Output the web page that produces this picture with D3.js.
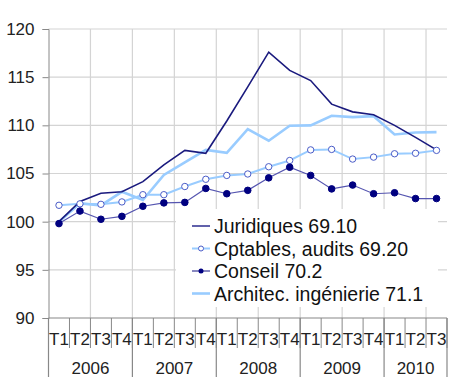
<!DOCTYPE html>
<html><head><meta charset="utf-8">
<script src="https://cdn.jsdelivr.net/npm/d3@7"></script>
<style>body{margin:0;background:#fff}svg{display:block;font-family:"Liberation Sans",Arial,sans-serif}</style>
</head><body><svg id="c" width="450" height="389"></svg>
<script>
const quarters = ["T1","T2","T3","T4","T1","T2","T3","T4","T1","T2","T3","T4","T1","T2","T3","T4","T1","T2","T3"];
const years = ["2006","2007","2008","2009","2010"];
const yearSpans = [4,4,4,4,3];
const yTicks = [90,95,100,105,110,115,120];
const juridiques = [100.0,102.1,102.95,103.1,104.15,105.9,107.4,107.1,110.45,114.0,117.6,115.7,114.65,112.2,111.4,111.1,110.0,108.75,107.45];
const cptables = [101.7,101.85,101.8,102.05,102.8,102.8,103.65,104.4,104.8,104.95,105.7,106.35,107.45,107.5,106.5,106.7,107.05,107.1,107.4];
const conseil = [99.8,101.1,100.25,100.55,101.6,101.95,102.0,103.45,102.9,103.25,104.55,105.65,104.8,103.4,103.8,102.9,103.0,102.4,102.4];
const architec = [100.0,101.9,101.7,103.1,102.25,104.85,106.15,107.45,107.15,109.6,108.4,109.95,110.0,111.0,110.85,110.95,109.05,109.25,109.3];
const seriesNames = ["Juridiques 69.10","Cptables, audits 69.20","Conseil 70.2","Architec. ingénierie 71.1"];

const svg = d3.select("#c");
const L = 48.5, R = 447, T = 29, B = 318;
const idx = d3.range(quarters.length);
const x = d3.scaleBand().domain(idx).range([L, R]);
const y = d3.scaleLinear().domain([90,120]).range([B, T]);
const cx = i => x(i) + x.bandwidth()/2;

// grid
const g = svg.append("g");
g.selectAll(".hg").data(yTicks.filter(v=>v>90)).enter().append("line")
  .attr("x1",L).attr("x2",R).attr("y1",d=>y(d)).attr("y2",d=>y(d))
  .attr("stroke","#d4d4d4").attr("stroke-width",1.2);
g.selectAll(".vg").data(d3.range(2, quarters.length+1, 2)).enter().append("line")
  .attr("x1",d=>L + d*x.bandwidth()).attr("x2",d=>L + d*x.bandwidth())
  .attr("y1",T).attr("y2",B)
  .attr("stroke","#d4d4d4").attr("stroke-width",1.2);

// y axis
const yAxis = d3.axisLeft(y).tickValues(yTicks).tickSize(6).tickPadding(8);
const ya = svg.append("g").attr("transform",`translate(${L},0)`).call(yAxis);
ya.select(".domain").attr("stroke","#888");
ya.selectAll(".tick line").attr("stroke","#888");
ya.selectAll("text").attr("font-size","17px").attr("fill","#222");

// x axis baseline
svg.append("line").attr("x1",L).attr("x2",R).attr("y1",B).attr("y2",B).attr("stroke","#888").attr("stroke-width",1.2);
svg.append("line").attr("x1",L).attr("x2",L).attr("y1",B).attr("y2",377).attr("stroke","#888").attr("stroke-width",1.2);
// quarter separators
svg.selectAll(".qs").data(d3.range(1, quarters.length+1)).enter().append("line")
  .attr("x1",d=>L+d*x.bandwidth()).attr("x2",d=>L+d*x.bandwidth())
  .attr("y1",B).attr("y2",348).attr("stroke","#888").attr("stroke-width",1);
// year separators
let acc = 0; const yearBounds = [];
yearSpans.forEach(s=>{acc+=s; yearBounds.push(acc);});
svg.selectAll(".ys").data(yearBounds).enter().append("line")
  .attr("x1",d=>L+d*x.bandwidth()).attr("x2",d=>L+d*x.bandwidth())
  .attr("y1",B).attr("y2",377).attr("stroke","#888").attr("stroke-width",1.2);
svg.selectAll(".ql").data(quarters).enter().append("text")
  .attr("x",(d,i)=>cx(i)).attr("y",345).attr("text-anchor","middle")
  .attr("font-size","17px").attr("fill","#222").text(d=>d);
let start=0;
years.forEach((yr,k)=>{
  const s=start, e=start+yearSpans[k];
  svg.append("text").attr("x",(L+s*x.bandwidth()+L+e*x.bandwidth())/2).attr("y",374)
    .attr("text-anchor","middle").attr("font-size","17px").attr("fill","#222").text(yr);
  start=e;
});

// lines
const line = d3.line().x((d,i)=>cx(i)).y(d=>y(d));
svg.append("path").datum(architec).attr("d",line).attr("fill","none").attr("stroke","#99ccff").attr("stroke-width",2.6);
svg.append("path").datum(cptables).attr("d",line).attr("fill","none").attr("stroke","#99ccff").attr("stroke-width",2);
svg.append("path").datum(conseil).attr("d",line).attr("fill","none").attr("stroke","#5555b0").attr("stroke-width",1.2);
svg.append("path").datum(juridiques).attr("d",line).attr("fill","none").attr("stroke","#1a1a7e").attr("stroke-width",1.6);
svg.selectAll(".cm").data(cptables).enter().append("circle")
  .attr("cx",(d,i)=>cx(i)).attr("cy",d=>y(d)).attr("r",3.2)
  .attr("fill","#fff").attr("stroke","#4a5cc8").attr("stroke-width",1);
svg.selectAll(".sm").data(conseil).enter().append("circle")
  .attr("cx",(d,i)=>cx(i)).attr("cy",d=>y(d)).attr("r",3.3)
  .attr("fill","#000080").attr("stroke","#000080");

// legend
const lg = svg.append("g");
lg.append("rect").attr("x",176).attr("y",209).attr("width",262).attr("height",98).attr("fill","#fff");
const styles = [
  {c:"#3a3a96",w:1.6,m:null},
  {c:"#99ccff",w:2,m:"open"},
  {c:"#3a3a96",w:1.2,m:"fill"},
  {c:"#99ccff",w:2.6,m:null}
];
const rowsY = [226, 248.5, 271, 293.5];
seriesNames.forEach((n,k)=>{
  const yy = rowsY[k];
  lg.append("line").attr("x1",192).attr("x2",210).attr("y1",yy).attr("y2",yy).attr("stroke",styles[k].c).attr("stroke-width",styles[k].w);
  if(styles[k].m==="open") lg.append("circle").attr("cx",201).attr("cy",yy).attr("r",2.5).attr("fill","#fff").attr("stroke","#4a5cc8");
  if(styles[k].m==="fill") lg.append("circle").attr("cx",201).attr("cy",yy).attr("r",2.5).attr("fill","#000080");
  lg.append("text").attr("x",214).attr("y",yy+7).attr("font-size","19.5px").attr("fill","#111").text(n);
});
</script></body></html>
